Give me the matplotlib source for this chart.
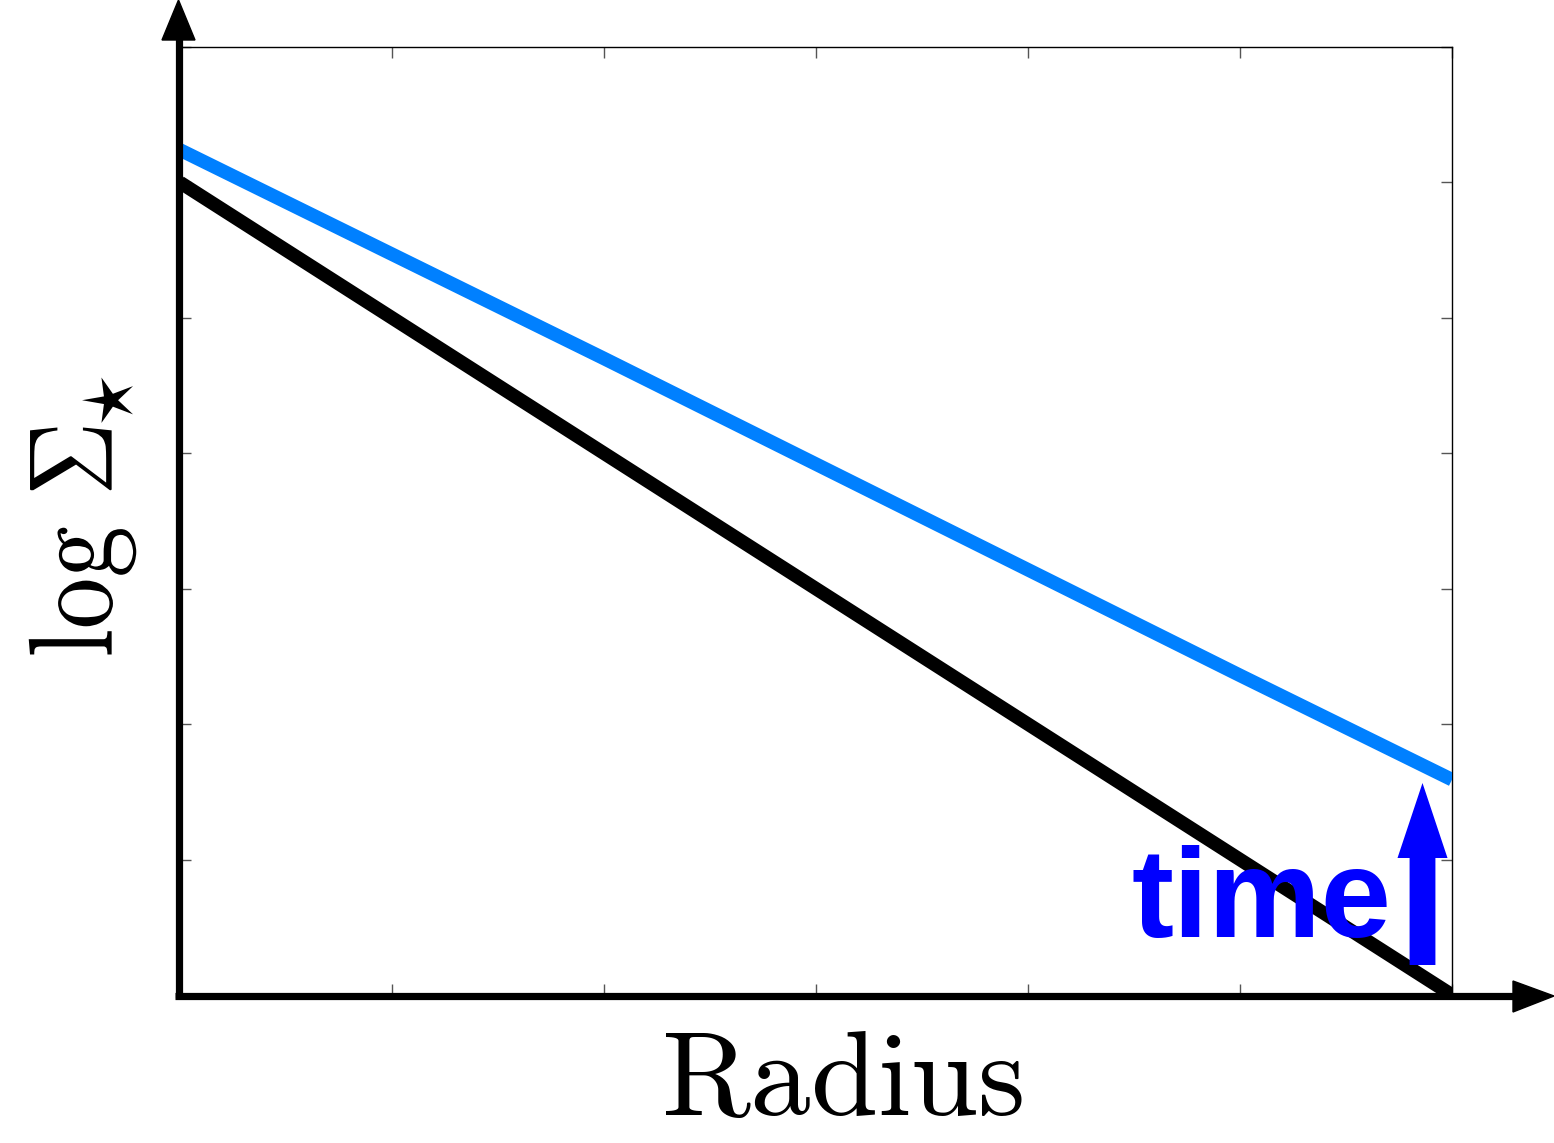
import matplotlib
matplotlib.use("Agg")
import matplotlib.pyplot as plt
from matplotlib.textpath import TextPath
from matplotlib.font_manager import FontProperties
from matplotlib.patches import PathPatch, FancyArrow
from matplotlib.transforms import Affine2D, IdentityTransform

plt.rcParams['mathtext.fontset'] = 'cm'

# data (arbitrary units; x ticks 0..6, y ticks 0..7)
radius = [0, 1, 2, 3, 4, 5, 6]
log_sigma_early = [6.0, 5.0, 4.0, 3.0, 2.0, 1.0, 0.0]
log_sigma_late = [6.24, 5.47, 4.70, 3.92, 3.14, 2.36, 1.59]
xticks = [0, 1, 2, 3, 4, 5, 6]
yticks = [0, 1, 2, 3, 4, 5, 6, 7]

W, H = 1554, 1143
fig = plt.figure(figsize=(W / 100, H / 100), dpi=100)
ax = fig.add_axes([180 / W, 1 - 995 / H, (1452 - 180) / W, (995 - 47) / H])

ax.plot(radius, log_sigma_late, color='#0080ff', lw=9.8, solid_capstyle='butt', zorder=3)
ax.plot(radius, log_sigma_early, color='black', lw=9.8, solid_capstyle='butt', zorder=3)

ax.set_xlim(0, 6)
ax.set_ylim(0, 7)
ax.set_xticks(xticks)
ax.set_yticks(yticks)
ax.tick_params(direction='in', length=8, width=1, color='#555555',
               top=True, right=True, labelbottom=False, labelleft=False)
for s in ax.spines.values():
    s.set_linewidth(1.0)
    s.set_color('black')
ax.spines['left'].set_visible(False)
ax.spines['bottom'].set_visible(False)


def fx(px):
    return px / W


def fy(py):
    return 1 - py / H


# thick axis arrows (figure coordinates)
fig.add_artist(plt.Line2D([fx(178.5), fx(178.5)], [fy(998), fy(38)], lw=5.2,
                          color='black', transform=fig.transFigure, solid_capstyle='butt'))
fig.add_artist(plt.Polygon([[fx(162), fy(40)], [fx(178.5), fy(0)], [fx(195), fy(40)]],
                           closed=True, color='black', transform=fig.transFigure))
fig.add_artist(plt.Line2D([fx(175), fx(1515)], [fy(995.5), fy(995.5)], lw=5.2,
                          color='black', transform=fig.transFigure, solid_capstyle='butt'))
fig.add_artist(plt.Polygon([[fx(1513), fy(981)], [fx(1554), fy(996)], [fx(1513), fy(1012)]],
                           closed=True, color='black', transform=fig.transFigure))

# blue "time" arrow
fig.add_artist(FancyArrow(fx(1422.5), fy(965), 0, fy(783) - fy(965), width=19 / H,
                          head_width=50 / W, head_length=75 / H,
                          length_includes_head=True, color='#0000ff', lw=0,
                          transform=fig.transFigure))
ax.text(5.715, 0.43, 'time', color='#0000ff', fontsize=91, fontweight='bold',
        family='Liberation Sans', ha='right', va='baseline')

fig.text(842 / W, fy(1115), r'$\mathrm{Radius}$', fontsize=87, ha='center', va='baseline')

# y label (slightly stretched across the text direction, as in the reference)
tp = TextPath((0, 0), r'$\log\,\Sigma_{\!\!\star}$', size=103,
              prop=FontProperties(math_fontfamily='cm'))
path = Affine2D().scale(1.0, 1.16).rotate_deg(90).transform_path(tp)
ext = path.get_extents()
cx, cy = 82.5, H - 516
path = Affine2D().translate(cx - (ext.x0 + ext.x1) / 2,
                            cy - (ext.y0 + ext.y1) / 2).transform_path(path)
fig.add_artist(PathPatch(path, color='black', lw=0, transform=IdentityTransform()))

fig.savefig('out.png', dpi=100)
